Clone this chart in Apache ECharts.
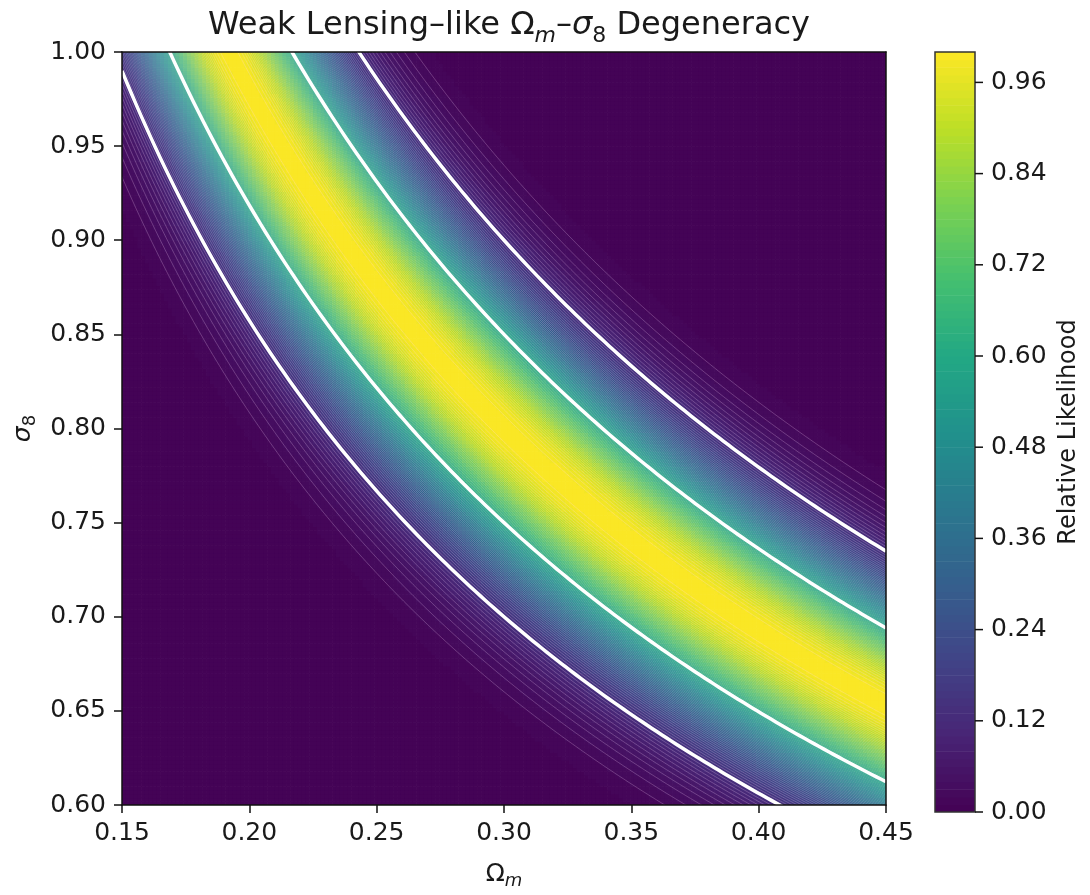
<!DOCTYPE html>
<html>
<head>
<meta charset="utf-8">
<script src="https://cdn.jsdelivr.net/npm/echarts@6/dist/echarts.min.js"></script>
<style>
  html, body { margin: 0; padding: 0; background: #ffffff; }
  #chart { width: 1090px; height: 895px; }
</style>
</head>
<body>
<div id="chart"></div>
<script>
// ---- axis ranges and tick labels ----
const omegaRange = [0.15, 0.45];
const sigma8Range = [0.60, 1.00];
const omegaTicks = [0.15, 0.20, 0.25, 0.30, 0.35, 0.40, 0.45];
const sigma8Ticks = [0.60, 0.65, 0.70, 0.75, 0.80, 0.85, 0.90, 0.95, 1.00];
const colorbarTicks = [0.00, 0.12, 0.24, 0.36, 0.48, 0.60, 0.72, 0.84, 0.96];

// ---- degeneracy model: S = sigma8 * (Omega_m / pivot)^alpha ----
const pivotOmega = 0.30;
const degeneracyExponent = 0.5;
const ridgeS = 0.80;          // best-fit value along the ridge
const ridgeWidth = 0.05;      // Gaussian width in S
const sigmaContours = [1, 2]; // white contour lines at 1 and 2 sigma
const fillLevelCount = 100;   // filled-contour bands between 0 and 1

const viridis = ['#440154', '#482475', '#414487', '#355f8d', '#2a788e', '#21918c',
                 '#22a884', '#44bf70', '#7ad151', '#bddf26', '#fde725'];

const FONT = 'DejaVu Sans';
const TEXT = '#1a1a1a';
const FS = 25;
const TICK_LEN = 8;

function sParam(om, s8) {
  return s8 * Math.pow(om / pivotOmega, degeneracyExponent);
}
function likelihood(om, s8) {
  const d = (sParam(om, s8) - ridgeS) / ridgeWidth;
  return Math.exp(-0.5 * d * d);
}

// ---- likelihood field, quantised into filled-contour bands ----
const nCols = 200, nRows = 200;
const dOm = (omegaRange[1] - omegaRange[0]) / nCols;
const dS8 = (sigma8Range[1] - sigma8Range[0]) / nRows;
const cells = [];
for (let i = 0; i < nCols; i++) {
  const om = omegaRange[0] + (i + 0.5) * dOm;
  for (let j = 0; j < nRows; j++) {
    const s8 = sigma8Range[0] + (j + 0.5) * dS8;
    const L = likelihood(om, s8);
    const band = Math.min(fillLevelCount - 1, Math.floor(L * fillLevelCount));
    cells.push([om, s8, (band + 0.5) / fillLevelCount]);
  }
}

// ---- contour curves, each given by its constant S value ----
const whiteCurves = [];
sigmaContours.forEach(k => {
  whiteCurves.push([ridgeS - k * ridgeWidth, 0.8]);
  whiteCurves.push([ridgeS + k * ridgeWidth, 0.8]);
});
const bandEdgeCurves = [];
for (let l = 2; l < fillLevelCount; l++) {
  const k = Math.sqrt(-2 * Math.log(l / fillLevelCount));
  bandEdgeCurves.push([ridgeS - k * ridgeWidth, 0.8]);
  bandEdgeCurves.push([ridgeS + k * ridgeWidth, 0.8]);
}

// ---- colour-bar bands ----
const colorbarBands = [];
for (let b = 0; b < fillLevelCount; b++) {
  const mid = (b + 0.5) / fillLevelCount;
  colorbarBands.push([0.5, mid, mid]);
}

const curveSamples = 160;
function curveRenderer(stroke, width) {
  return function (params, api) {
    const S = api.value(0);
    const pts = [];
    for (let t = 0; t <= curveSamples; t++) {
      const om = omegaRange[0] + (omegaRange[1] - omegaRange[0]) * t / curveSamples;
      const s8 = S / Math.pow(om / pivotOmega, degeneracyExponent);
      pts.push(api.coord([om, s8]));
    }
    return {
      type: 'polyline',
      shape: { points: pts },
      style: { stroke: stroke, lineWidth: width, fill: null }
    };
  };
}

const fmt2 = v => v.toFixed(2);

const chart = echarts.init(document.getElementById('chart'));
chart.setOption({
  animation: false,
  backgroundColor: '#ffffff',
  title: {
    text: '{n|Weak Lensing–like Ω}{si|m}{n|–}{i|σ}{s|8}{n| Degeneracy}',
    left: 504,
    textAlign: 'center',
    top: 0,
    textStyle: {
      fontWeight: 'normal',
      rich: {
        n: { fontFamily: FONT, fontSize: 32, fontWeight: 'normal', color: TEXT, lineHeight: 42 },
        i: { fontFamily: FONT, fontSize: 32, fontWeight: 'normal', fontStyle: 'italic', color: TEXT, lineHeight: 42 },
        si: { fontFamily: FONT, fontSize: 22, fontWeight: 'normal', fontStyle: 'italic', color: TEXT, lineHeight: 20, verticalAlign: 'bottom' },
        s: { fontFamily: FONT, fontSize: 22, fontWeight: 'normal', color: TEXT, lineHeight: 20, verticalAlign: 'bottom' }
      }
    }
  },
  grid: [
    { left: 122, top: 52, width: 764, height: 760 },
    { left: 935, top: 52, width: 40, height: 760 }
  ],
  visualMap: {
    show: false,
    type: 'continuous',
    min: 0,
    max: 1,
    dimension: 2,
    seriesIndex: [0, 3],
    inRange: { color: viridis }
  },
  xAxis: [
    {
      gridIndex: 0, type: 'value', position: 'bottom',
      min: omegaRange[0], max: omegaRange[1], interval: 0.05, z: 10,
      axisLine: { show: true, onZero: false, lineStyle: { color: '#111', width: 1.5 } },
      axisTick: { show: true, inside: false, length: TICK_LEN, lineStyle: { color: '#111', width: 1.5 }, customValues: omegaTicks },
      axisLabel: { fontFamily: FONT, fontSize: FS, color: TEXT, margin: 16, formatter: fmt2, customValues: omegaTicks },
      splitLine: { show: false },
      name: '{n|Ω}{si|m}',
      nameLocation: 'middle',
      nameGap: 53,
      nameTextStyle: {
        rich: {
          n: { fontFamily: FONT, fontSize: FS, color: TEXT, lineHeight: 32 },
          si: { fontFamily: FONT, fontSize: 18, fontStyle: 'italic', color: TEXT, lineHeight: 17, verticalAlign: 'bottom' }
        }
      }
    },
    {
      gridIndex: 0, type: 'value', position: 'top',
      min: omegaRange[0], max: omegaRange[1], z: 10,
      axisLine: { show: true, onZero: false, lineStyle: { color: '#111', width: 1.5 } },
      axisTick: { show: false }, axisLabel: { show: false }, splitLine: { show: false }
    },
    {
      gridIndex: 1, type: 'value', min: 0, max: 1, show: false
    }
  ],
  yAxis: [
    {
      gridIndex: 0, type: 'value', position: 'left',
      min: sigma8Range[0], max: sigma8Range[1], interval: 0.05, z: 10,
      axisLine: { show: true, onZero: false, lineStyle: { color: '#111', width: 1.5 } },
      axisTick: { show: true, inside: false, length: TICK_LEN, lineStyle: { color: '#111', width: 1.5 }, customValues: sigma8Ticks },
      axisLabel: { fontFamily: FONT, fontSize: FS, color: TEXT, margin: 16, formatter: fmt2, customValues: sigma8Ticks },
      splitLine: { show: false },
      name: '{i|σ}{s|8}',
      nameLocation: 'middle',
      nameRotate: 90,
      nameGap: 80,
      nameTextStyle: {
        rich: {
          i: { fontFamily: FONT, fontSize: FS, fontStyle: 'italic', color: TEXT, lineHeight: 32 },
          s: { fontFamily: FONT, fontSize: 18, color: TEXT, lineHeight: 17, verticalAlign: 'bottom' }
        }
      }
    },
    {
      gridIndex: 0, type: 'value', position: 'right',
      min: sigma8Range[0], max: sigma8Range[1], z: 10,
      axisLine: { show: true, onZero: false, lineStyle: { color: '#111', width: 1.5 } },
      axisTick: { show: false }, axisLabel: { show: false }, splitLine: { show: false }
    },
    {
      gridIndex: 1, type: 'value', position: 'right',
      min: 0, max: 1, z: 10,
      axisLine: { show: false },
      axisTick: { show: false },
      axisLabel: { fontFamily: FONT, fontSize: FS, color: TEXT, margin: 16, formatter: fmt2, customValues: colorbarTicks },
      splitLine: { show: false },
      name: 'Relative Likelihood',
      nameLocation: 'middle',
      nameRotate: 90,
      nameGap: 82,
      nameTextStyle: { fontFamily: FONT, fontSize: 24, color: TEXT }
    }
  ],
  series: [
    {
      // filled likelihood field
      type: 'custom',
      xAxisIndex: 0, yAxisIndex: 0,
      coordinateSystem: 'cartesian2d',
      clip: true,
      progressive: 0,
      silent: true,
      z: 1,
      encode: { x: 0, y: 1 },
      data: cells,
      renderItem: function (params, api) {
        const x = api.value(0), y = api.value(1);
        const p0 = api.coord([x - dOm / 2, y + dS8 / 2]);
        const p1 = api.coord([x + dOm / 2, y - dS8 / 2]);
        return {
          type: 'rect',
          shape: { x: p0[0], y: p0[1], width: p1[0] - p0[0] + 0.7, height: p1[1] - p0[1] + 0.7 },
          style: { fill: api.visual('color') }
        };
      }
    },
    {
      // faint edges between filled bands
      type: 'custom',
      xAxisIndex: 0, yAxisIndex: 0,
      coordinateSystem: 'cartesian2d',
      clip: true,
      progressive: 0,
      silent: true,
      z: 2,
      encode: { x: 0, y: 1 },
      data: bandEdgeCurves,
      renderItem: curveRenderer('rgba(255,215,255,0.34)', 0.7)
    },
    {
      // 1-sigma and 2-sigma contours
      type: 'custom',
      xAxisIndex: 0, yAxisIndex: 0,
      coordinateSystem: 'cartesian2d',
      clip: true,
      progressive: 0,
      silent: true,
      z: 3,
      encode: { x: 0, y: 1 },
      data: whiteCurves,
      renderItem: curveRenderer('#ffffff', 3.5)
    },
    {
      // colour bar
      type: 'custom',
      xAxisIndex: 2, yAxisIndex: 2,
      coordinateSystem: 'cartesian2d',
      clip: true,
      progressive: 0,
      silent: true,
      z: 1,
      encode: { x: 0, y: 1 },
      data: colorbarBands,
      renderItem: function (params, api) {
        const mid = api.value(1);
        const half = 0.5 / fillLevelCount;
        const p0 = api.coord([0, mid + half]);
        const p1 = api.coord([1, mid - half]);
        return {
          type: 'rect',
          shape: { x: p0[0], y: p0[1], width: p1[0] - p0[0], height: p1[1] - p0[1] + 0.6 },
          style: { fill: api.visual('color') }
        };
      }
    },
    {
      // colour-bar outline and its outward tick marks
      type: 'custom',
      xAxisIndex: 2, yAxisIndex: 2,
      coordinateSystem: 'cartesian2d',
      clip: false,
      silent: true,
      z: 5,
      encode: { x: 0, y: 1 },
      data: [[0.5, 0.5]],
      renderItem: function (params, api) {
        const p0 = api.coord([0, 1]);
        const p1 = api.coord([1, 0]);
        const children = [{
          type: 'rect',
          shape: { x: p0[0], y: p0[1], width: p1[0] - p0[0], height: p1[1] - p0[1] },
          style: { fill: null, stroke: '#333', lineWidth: 1.5 }
        }];
        colorbarTicks.forEach(v => {
          const p = api.coord([1, v]);
          children.push({
            type: 'line',
            shape: { x1: p[0], y1: p[1], x2: p[0] + TICK_LEN, y2: p[1] },
            style: { stroke: '#111', lineWidth: 1.5 }
          });
        });
        return { type: 'group', children: children };
      }
    }
  ]
});
</script>
</body>
</html>
